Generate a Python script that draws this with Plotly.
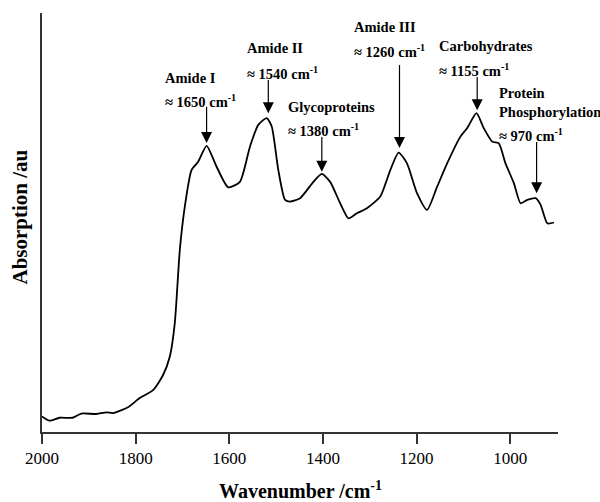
import plotly.graph_objects as go

# Spectrum (wavenumber cm-1, absorption au)
wavenumber = [2000, 1984, 1962.5, 1934.7, 1916, 1884, 1862.6, 1848.5, 1816.4, 1791.3,
              1762.8, 1741.4, 1727, 1716.4, 1705.7, 1695, 1680.7, 1666.5, 1648.5, 1627.1,
              1602.3, 1577.3, 1555.9, 1538.1, 1520.1, 1509.4, 1495.3, 1480.9, 1470.2, 1448.8,
              1420.4, 1402.4, 1384.6, 1363.2, 1345.5, 1327.5, 1306.1, 1277.6, 1256.2, 1238.4,
              1220.5, 1199.1, 1177.7, 1156.3, 1134.8, 1106.4, 1092.1, 1072.1, 1056.5, 1038.5,
              1024.4, 1010.1, 992.3, 977.9, 963.6, 945.8, 935.1, 920.8, 906.7]
absorption = [0.037, 0.027, 0.034, 0.034, 0.044, 0.043, 0.047, 0.045, 0.059, 0.081,
              0.100, 0.136, 0.180, 0.260, 0.434, 0.538, 0.625, 0.645, 0.683, 0.633,
              0.584, 0.597, 0.681, 0.733, 0.749, 0.729, 0.625, 0.554, 0.550, 0.558,
              0.597, 0.616, 0.597, 0.546, 0.510, 0.522, 0.534, 0.562, 0.625, 0.667,
              0.641, 0.570, 0.530, 0.585, 0.641, 0.705, 0.725, 0.761, 0.725, 0.693,
              0.689, 0.641, 0.594, 0.546, 0.554, 0.558, 0.542, 0.498, 0.500]

# Band labels
band_lines = [["Amide I", "≈ 1650 cm<sup>-1</sup>"],
              ["Amide II", "≈ 1540 cm<sup>-1</sup>"],
              ["Glycoproteins", "≈ 1380 cm<sup>-1</sup>"],
              ["Amide III", "≈ 1260 cm<sup>-1</sup>"],
              ["Carbohydrates", "≈ 1155 cm<sup>-1</sup>"],
              ["Protein", "Phosphorylation", "≈ 970 cm<sup>-1</sup>"]]
label_x = [1742, 1566.6, 1478.8, 1338, 1156.3, 1027.8]
label_y = [[0.845, 0.790], [0.916, 0.857], [0.776, 0.721], [0.967, 0.909],
           [0.922, 0.864], [0.809, 0.764, 0.709]]
arrow_x = [1648.5, 1516.7, 1402.4, 1236.5, 1070.6, 943.7]
arrow_tip = [0.690, 0.761, 0.621, 0.678, 0.768, 0.570]
arrow_start = [0.776, 0.840, 0.704, 0.876, 0.847, 0.692]

x_ticks = [2000, 1800, 1600, 1400, 1200, 1000]

serif = "Liberation Serif, Times New Roman, serif"

fig = go.Figure()
fig.add_trace(go.Scatter(x=wavenumber, y=absorption, mode="lines",
                         line=dict(color="black", width=1.8, shape="spline", smoothing=0.6),
                         showlegend=False, hoverinfo="skip"))

# Arrow shafts
shaft_x, shaft_y = [], []
for ax_, tip, st in zip(arrow_x, arrow_tip, arrow_start):
    shaft_x += [ax_, ax_, None]
    shaft_y += [st, tip + 0.015, None]
fig.add_trace(go.Scatter(x=shaft_x, y=shaft_y, mode="lines",
                         line=dict(color="black", width=1.2),
                         showlegend=False, hoverinfo="skip"))
# Arrow heads
fig.add_trace(go.Scatter(x=arrow_x, y=arrow_tip, mode="markers",
                         marker=dict(symbol="arrow-down", size=11, color="black",
                                     line=dict(width=0)),
                         showlegend=False, hoverinfo="skip"))

annotations = []
for lines, lx, lys in zip(band_lines, label_x, label_y):
    for txt, ly in zip(lines, lys):
        annotations.append(dict(x=lx, y=ly, xref="x", yref="y", text="<b>" + txt + "</b>",
                                showarrow=False, xanchor="left", yanchor="middle",
                                font=dict(family=serif, size=14.5, color="black")))
annotations.append(dict(x=0.5, y=-0.138, xref="paper", yref="paper",
                        text="<b>Wavenumber /cm<sup>-1</sup></b>", showarrow=False,
                        xanchor="center", yanchor="middle",
                        font=dict(family=serif, size=20, color="black")))
annotations.append(dict(x=-0.0426, y=0.512, xref="paper", yref="paper",
                        text="<b>Absorption /au</b>", showarrow=False, textangle=-90,
                        xanchor="center", yanchor="middle",
                        font=dict(family=serif, size=21, color="black")))

fig.update_layout(
    width=600, height=502,
    margin=dict(l=42, r=42, t=13, b=70),
    paper_bgcolor="white", plot_bgcolor="white",
    annotations=annotations,
    font=dict(family=serif, color="black"),
)
fig.update_xaxes(range=[2000, 898], tickvals=x_ticks, ticktext=[str(t) for t in x_ticks],
                 ticks="outside", ticklen=10, tickwidth=1.5, tickcolor="#333",
                 showline=True, linecolor="#333", linewidth=1.5, showgrid=False, zeroline=False,
                 automargin=False, ticklabelstandoff=0,
                 tickfont=dict(family=serif, size=17, color="black"))
fig.update_yaxes(range=[0, 1], showline=True, linecolor="#333", linewidth=1.5,
                 showgrid=False, zeroline=False, ticks="", showticklabels=False,
                 automargin=False)

fig.write_html("out.html", config={"displayModeBar": False},
               post_script="document.body.style.margin='0';")
